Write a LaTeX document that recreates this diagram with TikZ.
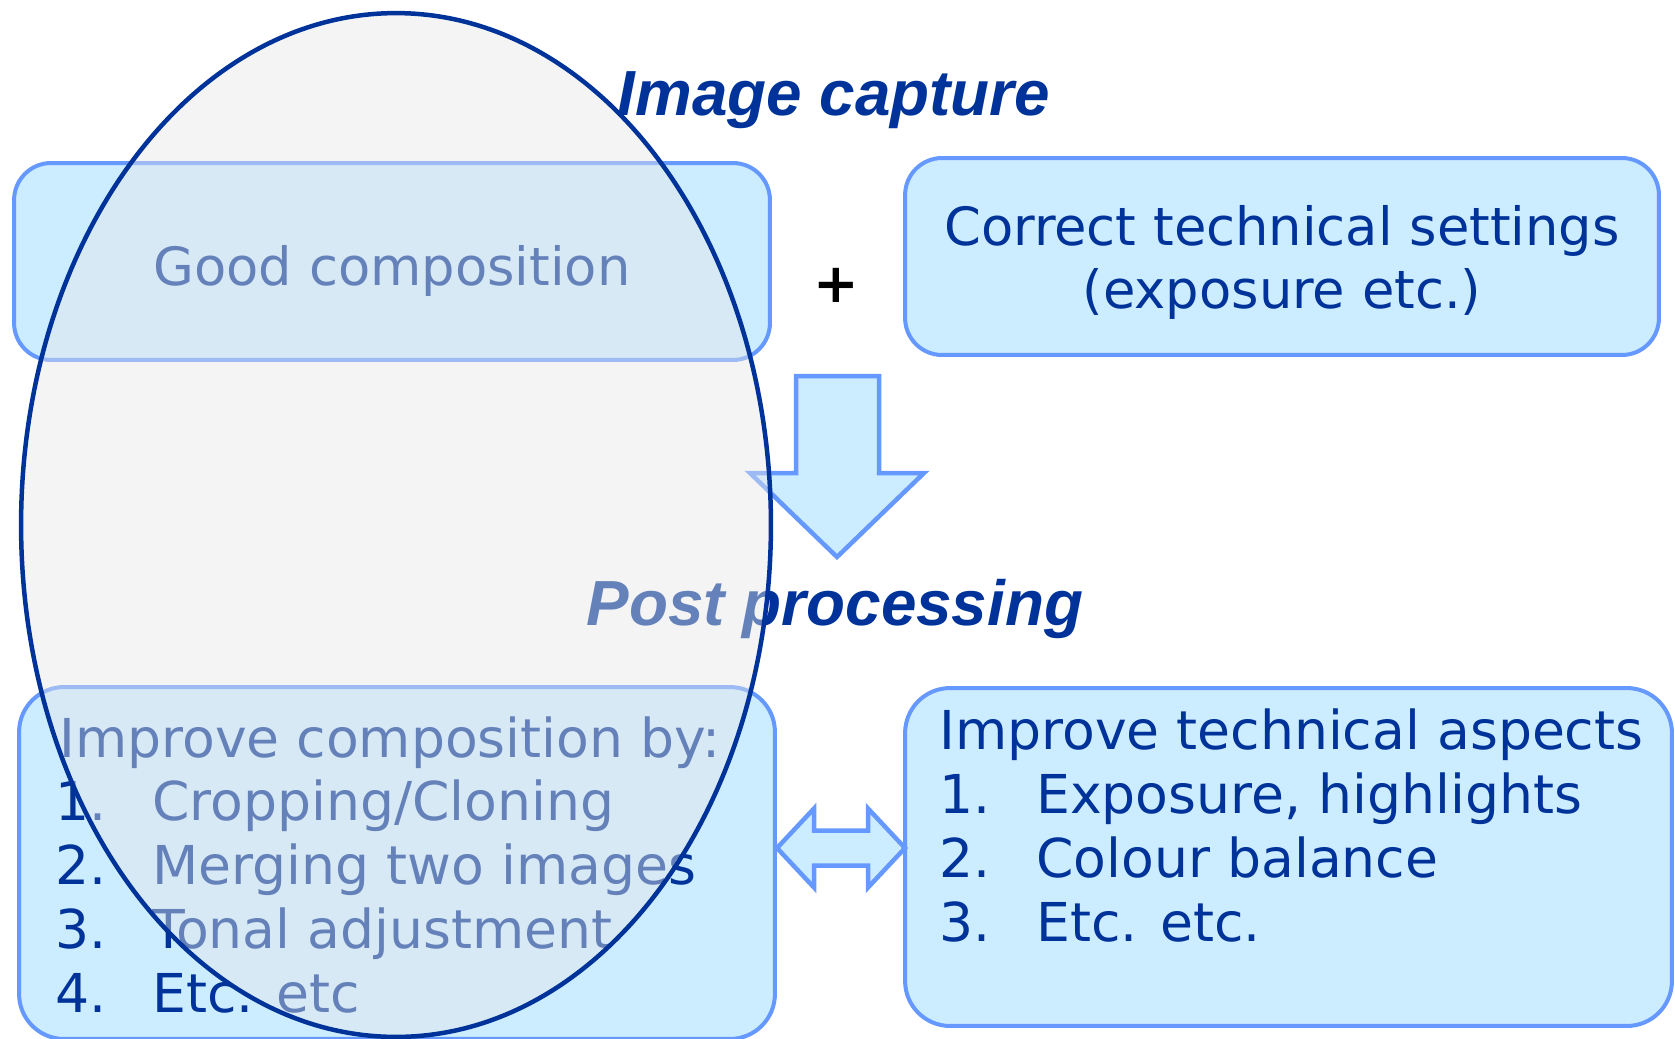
\documentclass[tikz,border=0pt]{standalone}
\usepackage{fontspec}
\setmainfont{DejaVu Sans}
\newfontfamily\titlefont{Liberation Sans}
\usetikzlibrary{shapes.geometric}
\definecolor{txtblue}{HTML}{003399}
\definecolor{boxfill}{HTML}{CCECFF}
\definecolor{boxline}{HTML}{6699FF}
\definecolor{ovalfill}{HTML}{E6E6E6}
\tikzset{
  box/.style={draw=boxline, fill=boxfill, line width=0.08cm, rectangle, inner sep=0pt},
  blockarrow/.style={draw=boxline, fill=boxfill, line width=0.09cm, line join=miter},
  bodytext/.style={inner sep=0pt, text=txtblue, font=\fontsize{30}{36}\selectfont},
  listtext/.style={inner sep=0pt, text=txtblue, font=\fontsize{30.5}{36}\selectfont},
  titletext/.style={inner sep=0pt, text=txtblue, font=\titlefont\bfseries\itshape\fontsize{36.3}{40}\selectfont},
  oval/.style={ellipse, draw=txtblue, line width=0.09cm, fill=ovalfill, fill opacity=0.44, draw opacity=1, inner sep=0pt}
}
\begin{document}
\begin{tikzpicture}[x=0.02cm, y=-0.02cm]
\useasboundingbox (0,0) rectangle (1675,1038);
% boxes
\node[box, rounded corners=0.74cm, minimum width=15.12cm, minimum height=3.94cm] (b1) at (392,261.5) {};
\node[box, rounded corners=0.74cm, minimum width=15.08cm, minimum height=3.94cm] (b2) at (1282,256.5) {};
\node[box, rounded corners=0.9cm, minimum width=15.12cm, minimum height=7.04cm] (b3) at (397,863) {};
\node[box, rounded corners=0.9cm, minimum width=15.34cm, minimum height=6.76cm] (b4) at (1288.5,857) {};
% block arrows
\draw[blockarrow] (796,376) -- (879,376) -- (879,473) -- (924,473) -- (837,557) -- (750,473) -- (796,473) -- cycle;
\draw[blockarrow] (777,848) -- (814,808.5) -- (814,830.5) -- (868,830.5) -- (868,808.5) -- (905,848)
   -- (868,887.5) -- (868,865.5) -- (814,865.5) -- (814,887.5) -- cycle;
% titles
\node[titletext, anchor=base] (t1) at (834,115) {Image capture};
\node[titletext, anchor=base] (t2) at (835,625) {Post processing};
% plus
\node[inner sep=0pt, font=\bfseries\fontsize{31}{36}\selectfont] (plus) at (836,285) {+};
% box texts
\node[bodytext, anchor=base] (g1) at (392,285) {Good composition};
\node[bodytext, anchor=base] (c1) at (1282,245) {Correct technical settings};
\node[bodytext, anchor=base] (c2) at (1282,308) {(exposure etc.)};
\node[listtext, anchor=base west] (p0) at (59,757) {Improve composition by:};
\node[listtext, anchor=base west] (pn1) at (55,820) {1.};
\node[listtext, anchor=base west] (pi1) at (152,820) {Cropping/Cloning};
\node[listtext, anchor=base west] (pn2) at (55,884) {2.};
\node[listtext, anchor=base west] (pi2) at (152,884) {Merging two images};
\node[listtext, anchor=base west] (pn3) at (55,948) {3.};
\node[listtext, anchor=base west] (pi3) at (152,948) {Tonal adjustment};
\node[listtext, anchor=base west] (pn4) at (55,1012) {4.};
\node[listtext, anchor=base west] (pi4) at (152,1012) {Etc. etc};
\node[listtext, anchor=base west] (q0) at (939,749) {Improve technical aspects};
\node[listtext, anchor=base west] (qn1) at (939,813) {1.};
\node[listtext, anchor=base west] (qi1) at (1036,813) {Exposure, highlights};
\node[listtext, anchor=base west] (qn2) at (939,877) {2.};
\node[listtext, anchor=base west] (qi2) at (1036,877) {Colour balance};
\node[listtext, anchor=base west] (qn3) at (939,941) {3.};
\node[listtext, anchor=base west] (qi3) at (1036,941) {Etc. etc.};
% overlay ellipse
\node[oval, minimum width=15cm, minimum height=20.48cm] (ov) at (396,525) {};
\end{tikzpicture}
\end{document}
